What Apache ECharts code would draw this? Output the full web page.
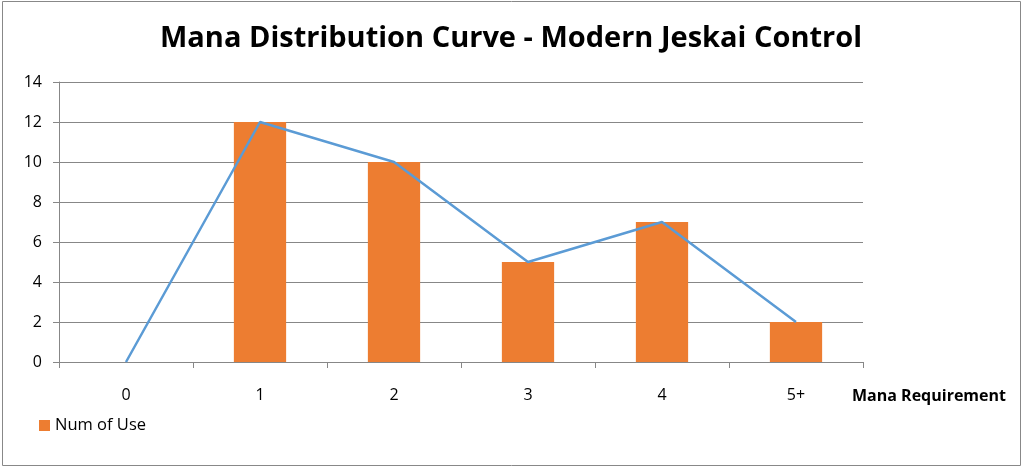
<!DOCTYPE html>
<html><head><meta charset="utf-8">
<script src="https://cdn.jsdelivr.net/npm/echarts@6/dist/echarts.min.js"></script>
<style>html,body{margin:0;padding:0;background:#fff}#c{width:1024px;height:468px}</style>
</head><body><div id="c"></div>
<script>
const categories = ['0', '1', '2', '3', '4', '5+'];
const barValues = [0, 12, 10, 5, 7, 2];
const lineValues = [0, 12, 10, 5, 7, 2];
const yTicks = {min: 0, max: 14, interval: 2};

const chart = echarts.init(document.getElementById('c'), null, {renderer: 'canvas'});
const font = '"Open Sans", "Noto Sans", "Liberation Sans", sans-serif';
chart.setOption({
  animation: false,
  backgroundColor: '#fff',
  title: {
    text: 'Mana Distribution Curve - Modern Jeskai Control',
    left: 506, textAlign: 'center', top: 19,
    textStyle: {fontFamily: font, fontSize: 29, fontWeight: 'bold', color: '#000'}
  },
  legend: {
    data: ['Num of Use'], left: 34, top: 412, itemWidth: 11, itemHeight: 11, itemGap: 5,
    icon: 'rect',
    textStyle: {fontFamily: font, fontSize: 16.5, color: '#000'}
  },
  grid: {left: 59, right: 161, top: 82, bottom: 106},
  xAxis: {
    type: 'category', data: categories, boundaryGap: true,
    axisLine: {lineStyle: {color: '#878787', width: 1}},
    axisTick: {show: true, length: 6, lineStyle: {color: '#878787'}},
    axisLabel: {margin: 25, fontFamily: font, fontSize: 16, color: '#000'}
  },
  yAxis: {
    type: 'value', min: yTicks.min, max: yTicks.max, interval: yTicks.interval,
    axisLine: {show: true, lineStyle: {color: '#878787'}},
    axisTick: {show: true, length: 6, lineStyle: {color: '#878787'}},
    axisLabel: {margin: 17, fontFamily: font, fontSize: 16, color: '#000'},
    splitLine: {lineStyle: {color: '#878787', width: 1}}
  },
  series: [
    {name: 'Num of Use', type: 'bar', data: barValues, barWidth: '39%',
     itemStyle: {color: '#ED7D31'}, z: 2},
    {name: 'Curve', type: 'line', data: lineValues, symbol: 'none',
     lineStyle: {color: '#5B9BD5', width: 2.5}, z: 3}
  ],
  graphic: [
    {type: 'rect', shape: {x: 2.5, y: 1.5, width: 1018, height: 464},
     style: {fill: 'none', stroke: '#888', lineWidth: 1}, silent: true},
    {type: 'text', left: 852, top: 388,
     style: {text: 'Mana Requirement', font: 'bold 16px ' + font, fill: '#000'}}
  ]
});
</script></body></html>
